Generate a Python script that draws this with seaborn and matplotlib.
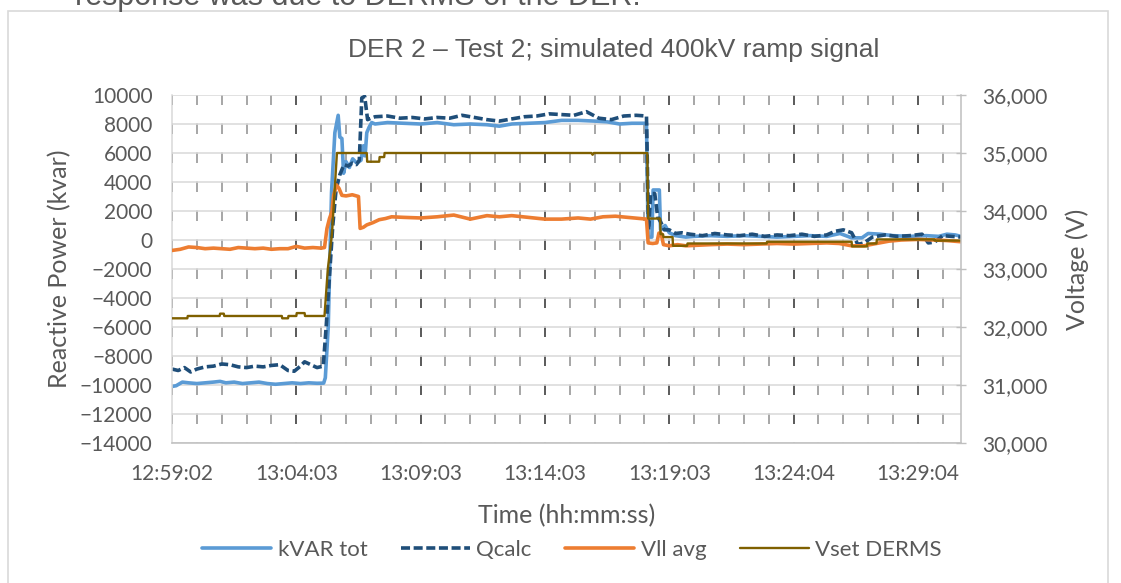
"""
DER 2 - Test 2: reactive power and voltage response to a simulated 400kV ramp.
"""

import numpy as np
import pandas as pd
import matplotlib
matplotlib.use("Agg")
import matplotlib.pyplot as plt
import seaborn as sns
from matplotlib.ticker import FixedLocator, MultipleLocator, FuncFormatter
from matplotlib.patches import Rectangle

# category axis: one label every 300 samples (~1 s per sample)
time_labels = ["12:59:02", "13:04:03", "13:09:03", "13:14:03",
               "13:19:03", "13:24:04", "13:29:04"]
samples_per_label = 300
n_samples = 1904

# kVAR tot (kvar, left axis)
kvar_t = [0, 10, 25, 40, 60, 80, 100, 116, 130, 150, 170, 190, 210, 230, 250, 270, 290, 310, 330, 350, 366,
          370, 377, 385, 393, 401, 405, 410, 414, 420, 428, 436, 446, 456, 462, 466, 470, 476, 482,
          490, 520, 560, 600, 640, 680, 720, 760, 790, 820, 860, 900, 940, 980, 1020, 1050, 1080, 1110, 1145,
          1149, 1158, 1161, 1176, 1179, 1190, 1200, 1215, 1240,
          1260, 1300, 1340, 1380, 1420, 1460, 1500, 1540, 1580, 1612, 1640, 1665, 1680, 1710, 1740, 1780,
          1820, 1850, 1870, 1890, 1904]
kvar_v = [-10100, -10050, -9800, -9850, -9900, -9850, -9800, -9750, -9850, -9800, -9900, -9850, -9800, -9900,
          -9950, -9900, -9850, -9900, -9850, -9880, -9870,
          -9500, -6000, 3300, 7400, 8600, 7100, 7000, 4600, 5400, 5000, 5600, 5300, 5500, 6500, 5800, 7400, 7800, 8100,
          8000, 8100, 8050, 8000, 8100, 7950, 8000, 7950, 7850, 8000, 8050, 8100, 8250, 8250, 8200, 8150, 8000, 8050, 8050,
          200, 200, 3450, 3450, 700, 1000, 500, 300, 200,
          250, 300, 250, 300, 250, 200, 250, 300, 250, 450, 150, 150, 450, 400, 300, 250,
          300, 250, 400, 350, 250]

# Qcalc (kvar, left axis)
q_t = [0, 15, 30, 45, 60, 80, 100, 120, 140, 160, 180, 200, 220, 240, 260, 280, 295, 310, 320, 335, 350, 365,
       372, 380, 388, 396, 405, 415, 425, 435, 445, 452, 458, 465, 472, 480,
       490, 520, 550, 580, 610, 640, 670, 700, 730, 760, 790, 820, 850, 880, 910, 940, 970, 1000, 1030, 1060,
       1090, 1120, 1145,
       1150, 1155, 1165, 1172, 1180, 1188, 1200, 1215, 1230,
       1250, 1280, 1310, 1340, 1370, 1400, 1430, 1460, 1490, 1520, 1550, 1580, 1600, 1620, 1640, 1655, 1670,
       1690, 1720, 1750, 1780, 1810, 1825, 1840, 1860, 1880, 1904]
q_v = [-8900, -9000, -8800, -9100, -8900, -8750, -8700, -8550, -8600, -8750, -8800, -8700, -8750, -8650, -8600,
       -9000, -9050, -8700, -8400, -8600, -8800, -8700,
       -6000, -2500, 1000, 3500, 4500, 5200, 5100, 5300, 5200, 5500, 9800, 9900, 8300, 8400,
       8500, 8550, 8400, 8450, 8350, 8450, 8400, 8600, 8450, 8300, 8200, 8350, 8500, 8550, 8700, 8650, 8600, 8850,
       8400, 8300, 8550, 8600, 8550,
       700, 3200, 3200, 1600, 1200, 700, 700, 450, 500,
       400, 300, 450, 350, 300, 400, 250, 350, 300, 400, 250, 350, 600, 700, 500, -300, -200,
       200, 350, 250, 300, 400, -200, -150, 300, 250, 200]

# Vll avg (V, right axis)
vll_t = [0, 20, 40, 60, 80, 100, 120, 140, 160, 180, 200, 220, 240, 260, 280, 300, 320, 340, 360, 368,
         374, 380, 386, 390, 397, 403, 410, 420, 435, 450, 454, 462, 470, 485, 500, 515, 530,
         560, 600, 640, 680, 720, 760, 790, 820, 860, 900, 940, 980, 1010, 1040, 1070, 1100, 1130, 1145,
         1149, 1160, 1170, 1175, 1180, 1186, 1200, 1220,
         1240, 1270, 1300, 1340, 1380, 1420, 1460, 1500, 1540, 1580, 1610, 1640, 1670, 1700, 1730, 1760,
         1800, 1840, 1870, 1904]
vll_v = [33320, 33340, 33380, 33370, 33350, 33360, 33350, 33340, 33370, 33360, 33350, 33360, 33340, 33350,
         33350, 33390, 33360, 33370, 33360, 33370,
         33700, 33870, 33990, 34270, 34450, 34390, 34270, 34260, 34280, 34250, 33700, 33720, 33760, 33800,
         33850, 33870, 33900,
         33890, 33880, 33900, 33930, 33860, 33920, 33900, 33920, 33890, 33860, 33860, 33880, 33860, 33900,
         33910, 33890, 33870, 33860,
         33450, 33440, 33450, 33620, 33620, 33420, 33400, 33420,
         33400, 33410, 33420, 33430, 33420, 33430, 33440, 33430, 33440, 33450, 33440, 33400, 33400, 33440,
         33480, 33500, 33510, 33500, 33490, 33470]

# Vset DERMS (V, right axis)
vset_t = [0, 37, 38, 115, 116, 125, 126, 265, 266, 280, 281, 300, 301, 320, 321, 368, 376, 386, 392, 398,
          470, 471, 500, 501, 512, 513, 1012, 1015, 1018, 1147, 1149, 1178, 1179, 1185, 1186, 1208, 1209,
          1243, 1244, 1435, 1436, 1640, 1641, 1677, 1678, 1700, 1701, 1840, 1841, 1904]
vset_v = [32150, 32150, 32190, 32190, 32230, 32230, 32190, 32190, 32150, 32150, 32190, 32190, 32240, 32240,
          32190, 32190, 33000, 33600, 34300, 35000,
          35000, 34850, 34850, 34930, 34930, 35000, 35000, 34970, 35000, 35000, 33870, 33870, 33600, 33600,
          33550, 33550, 33400, 33400, 33440, 33440, 33470, 33470, 33390, 33390, 33440, 33440, 33510, 33510,
          33490, 33490]

W, H = 1121, 583
GRAY_TXT = "#595959"

sns.set_theme(style="white")
plt.rcParams["font.family"] = ["Lato", "DejaVu Sans"]
plt.rcParams["lines.scale_dashes"] = False

fig = plt.figure(figsize=(W / 100, H / 100), dpi=100)
ax = fig.add_axes([172 / W, 1 - 443 / H, (961 - 172) / W, (443 - 95) / H])
ax2 = ax.twinx()

series_left = [
    (kvar_t, kvar_v, "kVAR tot", "#5B9BD5", "-"),
    (q_t, q_v, "Qcalc", "#1F4E79", (0, (6.5, 2.6))),
]
series_right = [
    (vll_t, vll_v, "Vll avg", "#ED7D31", "-"),
    (vset_t, vset_v, "Vset DERMS", "#7F6000", "-"),
]
for axis, group in [(ax, series_left), (ax2, series_right)]:
    for t, v, name, color, ls in group:
        df = pd.DataFrame({"t": t, "v": v})
        lw = 1.7 if name == "Vset DERMS" else 2.6
        sns.lineplot(data=df, x="t", y="v", ax=axis, color=color, lw=lw,
                     linestyle=ls, estimator=None, sort=False, label=name)

# axes ranges
ax.set_xlim(0, n_samples)
ax.set_ylim(-14000, 10000)
ax.yaxis.set_major_locator(MultipleLocator(2000))
ax2.set_ylim(30000, 36000)
ax2.yaxis.set_major_locator(MultipleLocator(1000))
ax2.yaxis.set_major_formatter(FuncFormatter(lambda v, p: f"{v:,.0f}"))

tick_pos = np.arange(len(time_labels)) * samples_per_label
ax.xaxis.set_major_locator(FixedLocator(tick_pos))
ax.set_xticklabels(time_labels)
ax.xaxis.set_minor_locator(MultipleLocator(60))

# gridlines
ax.set_axisbelow(True)
ax.grid(axis="y", color="#d9d9d9", lw=1.1, ls="-")
grid_dash = (7.2, (7.6, 13.28))
ax.grid(axis="x", which="major", color="#595959", lw=1.4, ls=grid_dash)
ax.grid(axis="x", which="minor", color="#a6a6a6", lw=1.4, ls=grid_dash)

# ticks
ax.tick_params(axis="y", length=0, pad=14, labelsize=15, labelcolor=GRAY_TXT)
ax.tick_params(axis="x", which="both", direction="in", length=0, pad=15,
               labelsize=15, labelcolor=GRAY_TXT)
ax2.tick_params(axis="y", direction="inout", length=6.5, width=1, color="#bfbfbf",
                pad=12, labelsize=15, labelcolor=GRAY_TXT)

for s in ["top", "right"]:
    ax.spines[s].set_visible(False)
for s in ["top", "left", "bottom"]:
    ax2.spines[s].set_visible(False)
ax.spines["left"].set_color("#d9d9d9")
ax.spines["bottom"].set_color("#bfbfbf")
ax2.spines["right"].set_color("#bfbfbf")
for sp in [ax.spines["left"], ax.spines["bottom"], ax2.spines["right"]]:
    sp.set_linewidth(1.1)

# axis titles
ax.set_xlabel("Time (hh:mm:ss)", fontsize=18, color=GRAY_TXT)
ax.xaxis.set_label_coords((567 - 172) / 789, (443 - 516) / 348)
ax.xaxis.label.set_va("center")
ax.set_ylabel("Reactive Power (kvar)", fontsize=18, color=GRAY_TXT)
ax.yaxis.set_label_coords((60 - 172) / 789, 0.5)
ax.yaxis.label.set_va("center")
ax2.set_ylabel("Voltage (V)", fontsize=18, color=GRAY_TXT)
ax2.yaxis.set_label_coords((1077 - 172) / 789, 0.5)
ax2.yaxis.label.set_va("center")

# legend across both axes
h1, l1 = ax.get_legend_handles_labels()
h2, l2 = ax2.get_legend_handles_labels()
for a in (ax, ax2):
    if a.get_legend() is not None:
        a.get_legend().remove()
fig.legend(h1 + h2, l1 + l2, loc="center", bbox_to_anchor=(572 / W, 1 - 550 / H),
           ncol=4, frameon=False, fontsize=16, handlelength=3.1, handletextpad=0.3,
           columnspacing=1.5, labelcolor=GRAY_TXT)

# title, chart border and the clipped document line above the chart
fig.text(614 / W, 1 - 50 / H, "DER 2 \u2013 Test 2; simulated 400kV ramp signal",
         ha="center", va="center", fontsize=19, family=["Liberation Sans"], color=GRAY_TXT)
fig.add_artist(Rectangle((8 / W, -0.05), (1108 - 8) / W, 1.05 - 11 / H,
                         transform=fig.transFigure, fill=False,
                         edgecolor="#d9d9d9", lw=1.2))
fig.text(75 / W, 1 - 5 / H, "response was due to DERMS of the DER.",
         ha="left", va="baseline", fontsize=22, family=["Liberation Sans"], color=GRAY_TXT)

fig.savefig("out.png", dpi=100)
